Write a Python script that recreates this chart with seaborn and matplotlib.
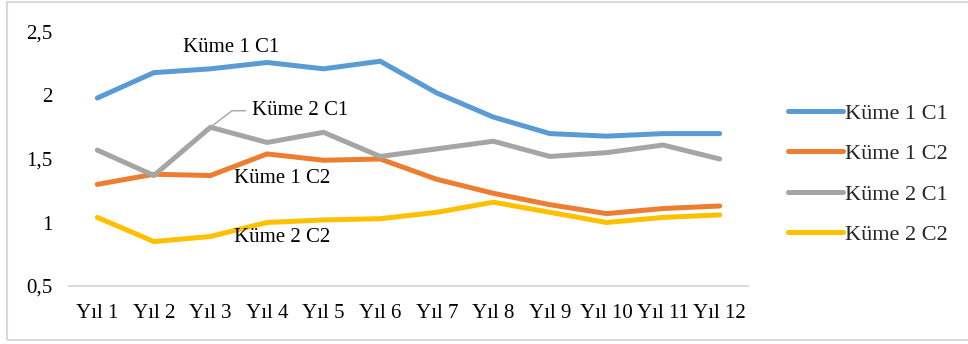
import matplotlib
matplotlib.use("Agg")
import matplotlib.pyplot as plt
import seaborn as sns
import pandas as pd
from matplotlib.patches import Rectangle

# Yearly values for each cluster / component
years = ["Yıl 1", "Yıl 2", "Yıl 3", "Yıl 4", "Yıl 5", "Yıl 6",
         "Yıl 7", "Yıl 8", "Yıl 9", "Yıl 10", "Yıl 11", "Yıl 12"]
kume1_c1 = [1.98, 2.18, 2.21, 2.26, 2.21, 2.27, 2.02, 1.83, 1.70, 1.68, 1.70, 1.70]
kume1_c2 = [1.30, 1.38, 1.37, 1.54, 1.49, 1.50, 1.34, 1.23, 1.14, 1.07, 1.11, 1.13]
kume2_c1 = [1.57, 1.37, 1.75, 1.63, 1.71, 1.52, 1.58, 1.64, 1.52, 1.55, 1.61, 1.50]
kume2_c2 = [1.04, 0.85, 0.89, 1.00, 1.02, 1.03, 1.08, 1.16, 1.08, 1.00, 1.04, 1.06]

series_names = ["Küme 1 C1", "Küme 1 C2", "Küme 2 C1", "Küme 2 C2"]
series_values = [kume1_c1, kume1_c2, kume2_c1, kume2_c2]
colors = ["#5B9BD5", "#ED7D31", "#A5A5A5", "#FFC000"]
y_ticks = [0.5, 1.0, 1.5, 2.0, 2.5]
y_tick_labels = ["0,5", "1", "1,5", "2", "2,5"]

rows = []
for name, vals in zip(series_names, series_values):
    for i, (yr, v) in enumerate(zip(years, vals)):
        rows.append({"idx": i, "Yıl": yr, "Seri": name, "Değer": v})
df = pd.DataFrame(rows)

sns.set_style("white")
plt.rcParams["font.family"] = ["Liberation Serif", "DejaVu Serif"]

FS = 15
LW = 3.6
W, H = 968, 344
fig = plt.figure(figsize=(W / 100, H / 100), dpi=100)
ax = fig.add_axes([69 / W, 1 - 286 / H, (748 - 69) / W, (286 - 32) / H])

sns.lineplot(data=df, x="idx", y="Değer", hue="Seri", hue_order=series_names,
             palette=colors, linewidth=LW, ax=ax, legend=False,
             solid_capstyle="round", solid_joinstyle="round")

ax.set_xlim(-0.5, len(years) - 0.5)
ax.set_ylim(0.5, 2.5)
ax.set_xticks(range(len(years)))
ax.set_xticklabels(years, fontsize=FS)
ax.set_yticks(y_ticks)
ax.set_yticklabels(y_tick_labels, fontsize=FS)
ax.set_xlabel("")
ax.set_ylabel("")
ax.tick_params(axis="both", length=0, colors="black")
ax.tick_params(axis="x", pad=13)
ax.tick_params(axis="y", pad=12)
for side in ["top", "right", "left"]:
    ax.spines[side].set_visible(False)
ax.spines["bottom"].set_color("#D9D9D9")
ax.spines["bottom"].set_linewidth(1.5)
ax.grid(False)

# Series labels inside the plot
lab_kw = dict(fontsize=FS, color="black", va="center")
ax.text(1.52, 2.38, "Küme 1 C1", ha="left", **lab_kw)
ax.text(2.74, 1.88, "Küme 2 C1", ha="left", **lab_kw)
ax.text(2.42, 1.35, "Küme 1 C2", ha="left", **lab_kw)
ax.text(2.42, 0.88, "Küme 2 C2", ha="left", **lab_kw)
# leader line for Küme 2 C1
ax.plot([2.0, 2.38, 2.62], [kume2_c1[2], 1.88, 1.88], color="#A5A5A5",
        linewidth=1.0)

# Legend
handles = [plt.Line2D([], [], color=c, linewidth=LW, solid_capstyle="round")
           for c in colors]
fig.legend(handles, series_names, loc="upper left",
           bbox_to_anchor=(788 / W, 1 - 103 / H), frameon=False,
           fontsize=16, handlelength=2.48, handletextpad=0.08,
           labelspacing=0.9, borderaxespad=0, borderpad=0)

# Outer chart border
fig.patches.append(Rectangle((6.5 / W, 1 - 339.5 / H), (W + 10) / W, 338 / H,
                             transform=fig.transFigure, fill=False,
                             edgecolor="#D9D9D9", linewidth=1.5))

fig.savefig("out.png", dpi=100)
